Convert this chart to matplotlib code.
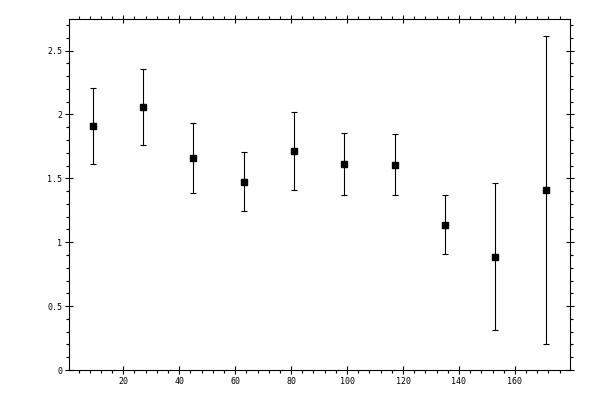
import matplotlib
matplotlib.use("Agg")
import matplotlib.pyplot as plt
from matplotlib.ticker import MultipleLocator, FixedLocator

# bin centres and measured values with symmetric errors
x_centres = [9, 27, 45, 63, 81, 99, 117, 135, 153, 171]
y_values = [1.912, 2.061, 1.662, 1.474, 1.716, 1.615, 1.607, 1.137, 0.886, 1.411]
y_errors = [0.296, 0.297, 0.274, 0.230, 0.305, 0.243, 0.237, 0.230, 0.574, 1.206]

y_ticks = [0, 0.5, 1, 1.5, 2, 2.5]
y_tick_labels = ["0", "0.5", "1", "1.5", "2", "2.5"]

plt.rcParams['font.family'] = ['DejaVu Sans Mono']

fig = plt.figure(figsize=(6, 4), dpi=100)
ax = fig.add_axes([69.3 / 600, 1 - 370 / 400, (570 - 69.3) / 600, (370 - 19.3) / 400])

ax.errorbar(x_centres, y_values, yerr=y_errors, fmt='s', color='black',
            markersize=5, elinewidth=0.8, capsize=2, capthick=0.8)

ax.set_xlim(0.7, 179.7)
ax.set_ylim(0, 2.745)

ax.xaxis.set_major_locator(MultipleLocator(20))
ax.xaxis.set_minor_locator(MultipleLocator(4))
ax.yaxis.set_major_locator(FixedLocator(y_ticks))
ax.set_yticklabels(y_tick_labels)
ax.yaxis.set_minor_locator(MultipleLocator(0.1))

for side in ax.spines.values():
    side.set_linewidth(0.8)

ax.tick_params(which='major', direction='inout', length=5.5, width=0.8,
               top=True, right=True, labelsize=6, pad=2.5)
ax.tick_params(which='minor', direction='out', length=2.2, width=0.8,
               top=True, right=True)

fig.savefig("out.png", dpi=100)
